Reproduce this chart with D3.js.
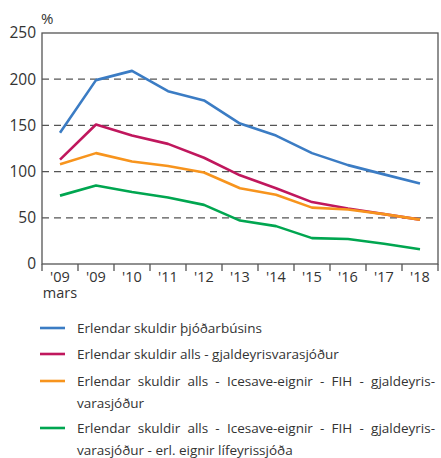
<!DOCTYPE html>
<html>
<head>
<meta charset="utf-8">
<script src="https://cdn.jsdelivr.net/npm/d3@7"></script>
<style>
  body { margin: 0; background: #fff; }
  svg text { font-family: "Open Sans", "Noto Sans", sans-serif; fill: #333; }
</style>
</head>
<body>
<div id="chart"></div>
<script>
var years = ["mars", "'09", "'10", "'11", "'12", "'13", "'14", "'15", "'16", "'17", "'18"];
var yearLabels = ["'09", "'09", "'10", "'11", "'12", "'13", "'14", "'15", "'16", "'17", "'18"];
var yTicks = [0, 50, 100, 150, 200, 250];

var thjodarbu = [142, 199, 209, 187, 177, 152, 139, 120, 107, 97, 87];
var alls = [113, 151, 139, 130, 115, 96, 82, 67, 60, 54, 48];
var icesave = [108, 120, 111, 106, 99, 82, 75, 61, 59, 54, 48];
var lifeyris = [74, 85, 78, 72, 64, 47, 41, 28, 27, 22, 16];

var seriesNames = [
  ["Erlendar skuldir þjóðarbúsins"],
  ["Erlendar skuldir alls - gjaldeyrisvarasjóður"],
  ["Erlendar skuldir alls - Icesave-eignir - FIH - gjaldeyris-", "varasjóður"],
  ["Erlendar skuldir alls - Icesave-eignir - FIH - gjaldeyris-", "varasjóður - erl. eignir lífeyrissjóða"]
];
var seriesColors = ["#3b7cc4", "#c0175d", "#f7941d", "#00a650"];

var allSeries = [thjodarbu, alls, icesave, lifeyris];

var width = 441, height = 458,
    plotLeft = 42, plotRight = 438, plotTop = 33, plotBottom = 264;

var svg = d3.select('#chart').append('svg')
  .attr('width', width).attr('height', height);

var x = d3.scaleBand().domain(d3.range(years.length)).range([plotLeft, plotRight]);
var y = d3.scaleLinear().domain([0, 250]).range([plotBottom, plotTop]);

// dashed gridlines
svg.append('g').selectAll('line')
  .data(yTicks.filter(function(d) { return d > 0 && d < 250; }))
  .join('line')
  .attr('x1', plotLeft).attr('x2', plotRight)
  .attr('y1', function(d) { return y(d); }).attr('y2', function(d) { return y(d); })
  .attr('stroke', '#555').attr('stroke-width', 1.2)
  .attr('stroke-dasharray', '7,5');

// frame
svg.append('rect')
  .attr('x', plotLeft).attr('y', plotTop)
  .attr('width', plotRight - plotLeft).attr('height', plotBottom - plotTop)
  .attr('fill', 'none').attr('stroke', '#555').attr('stroke-width', 1.3);

// y axis labels
var yAxis = d3.axisLeft(y).tickValues(yTicks).tickSize(0).tickPadding(6);
var gy = svg.append('g').attr('transform', 'translate(' + plotLeft + ',0)').call(yAxis);
gy.select('.domain').remove();
gy.selectAll('text').attr('font-size', 15.5).style('font-family', '"Open Sans", sans-serif').attr('fill', '#333');

// x axis ticks between bands
var boundaries = d3.range(years.length + 1).map(function(i) { return plotLeft + i * x.bandwidth(); });
svg.append('g').selectAll('line')
  .data(boundaries)
  .join('line')
  .attr('x1', function(d) { return d; }).attr('x2', function(d) { return d; })
  .attr('y1', plotBottom).attr('y2', plotBottom + 7)
  .attr('stroke', '#555').attr('stroke-width', 1.3);

svg.append('g').selectAll('text')
  .data(yearLabels)
  .join('text')
  .attr('x', function(d, i) { return x(i) + x.bandwidth() / 2; })
  .attr('y', 282)
  .attr('text-anchor', 'middle')
  .attr('font-size', 14.5)
  .text(function(d) { return d; });

svg.append('text')
  .attr('x', x(0) + x.bandwidth() / 2).attr('y', 298)
  .attr('text-anchor', 'middle').attr('font-size', 14.5)
  .text('mars');

svg.append('text')
  .attr('x', 41).attr('y', 24)
  .attr('font-size', 15)
  .text('%');

// lines
var line = d3.line()
  .x(function(d, i) { return x(i) + x.bandwidth() / 2; })
  .y(function(d) { return y(d); });

svg.append('g').selectAll('path')
  .data(allSeries)
  .join('path')
  .attr('d', line)
  .attr('fill', 'none')
  .attr('stroke', function(d, i) { return seriesColors[i]; })
  .attr('stroke-width', 2.6)
  .attr('stroke-linejoin', 'round');

// legend (wrapped lines are justified like the original)
var legendY = [328, 354, 381, 428];
var textLeft = 77, textRight = 435;
var legend = svg.append('g').selectAll('g')
  .data(seriesNames)
  .join('g')
  .attr('transform', function(d, i) { return 'translate(0,' + legendY[i] + ')'; });

legend.append('line')
  .attr('x1', 40).attr('x2', 65)
  .attr('stroke', function(d, i) { return seriesColors[i]; })
  .attr('stroke-width', 2.6);

legend.each(function(d) {
  var g = d3.select(this);
  d.forEach(function(t, j) {
    var txt = g.append('text')
      .attr('x', textLeft).attr('y', 5 + j * 21.5)
      .attr('font-size', 13.5)
      .text(t);
    if (j < d.length - 1) {
      var spaces = t.split(' ').length - 1,
          extra = (textRight - textLeft - txt.node().getComputedTextLength()) / spaces;
      txt.attr('word-spacing', extra);
    }
  });
});
</script>
</body>
</html>
